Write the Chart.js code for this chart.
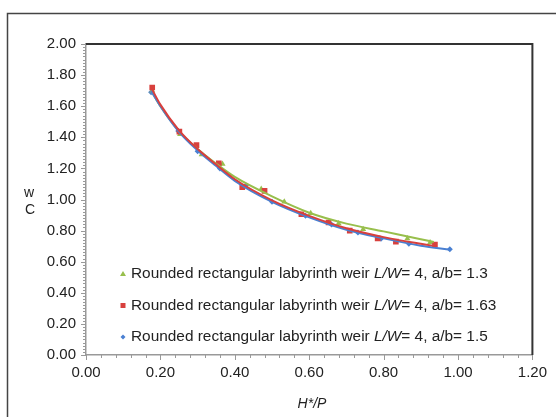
<!DOCTYPE html>
<html>
<head>
<meta charset="utf-8">
<script src="https://cdn.jsdelivr.net/npm/chart.js@4/dist/chart.umd.min.js"></script>
<style>
  html, body { margin: 0; padding: 0; background: #fff; }
  #wrap { width: 556px; height: 417px; }
</style>
</head>
<body>
<div id="wrap"><canvas id="cwChart" width="556" height="417"></canvas></div>
<script>
// --- data ---
const xTicks = [0, 0.2, 0.4, 0.6, 0.8, 1.0, 1.2];
const yTicks = [0, 0.2, 0.4, 0.6, 0.8, 1.0, 1.2, 1.4, 1.6, 1.8, 2.0];

// measured points
const greenX = [0.178, 0.253, 0.311, 0.367, 0.471, 0.533, 0.604, 0.679, 0.745, 0.864, 0.925];
const greenY = [1.70, 1.42, 1.29, 1.228, 1.067, 0.986, 0.911, 0.845, 0.809, 0.75, 0.723];
const redX = [0.178, 0.251, 0.297, 0.357, 0.42, 0.48, 0.579, 0.652, 0.709, 0.784, 0.833, 0.938];
const redY = [1.72, 1.436, 1.35, 1.233, 1.08, 1.055, 0.905, 0.852, 0.80, 0.75, 0.729, 0.71];
const blueX = [0.175, 0.248, 0.30, 0.36, 0.43, 0.50, 0.59, 0.66, 0.731, 0.793, 0.868, 0.978];
const blueY = [1.69, 1.44, 1.31, 1.20, 1.09, 0.985, 0.895, 0.84, 0.787, 0.748, 0.716, 0.68];

// trend curves
const greenFitX = [0.175, 0.2, 0.25, 0.3, 0.35, 0.4, 0.5, 0.6, 0.7, 0.8, 0.9, 0.935];
const greenFitY = [1.70, 1.60, 1.44, 1.325, 1.23, 1.145, 1.02, 0.915, 0.845, 0.795, 0.745, 0.727];
const redFitX = [0.175, 0.2, 0.25, 0.3, 0.35, 0.4, 0.5, 0.6, 0.7, 0.8, 0.9, 0.94];
const redFitY = [1.72, 1.61, 1.445, 1.325, 1.225, 1.13, 0.995, 0.895, 0.815, 0.758, 0.715, 0.70];
const blueFitX = [0.175, 0.2, 0.25, 0.3, 0.35, 0.4, 0.5, 0.6, 0.7, 0.8, 0.9, 0.98];
const blueFitY = [1.70, 1.60, 1.435, 1.315, 1.215, 1.12, 0.985, 0.885, 0.805, 0.75, 0.703, 0.677];

const seriesLabels = ['a/b= 1.3', 'a/b= 1.63', 'a/b= 1.5'];

const GREEN = '#98BF4C';
const RED = '#D8403D';
const BLUE = '#4A80D2';
const FONT = "'Liberation Sans', Arial, sans-serif";

function pts(xs, ys) {
    return xs.map((x, i) => ({ x: x, y: ys[i] }));
}

// frame, minor ticks, legend and axis titles
const decor = {
    id: 'decor',
    beforeDraw(chart) {
        const c = chart.ctx;
        c.save();
        c.fillStyle = '#fff';
        c.fillRect(0, 0, chart.width, chart.height);
        c.strokeStyle = '#444';
        c.lineWidth = 1.5;
        c.strokeRect(7.5, 13.5, 700, 600);
        c.restore();
    },
    afterDraw(chart) {
        const c = chart.ctx;
        const a = chart.chartArea;
        const xs = chart.scales.x, ys = chart.scales.y;
        c.save();
        // top + right border of the plot
        c.strokeStyle = '#333';
        c.lineWidth = 2;
        c.beginPath();
        c.moveTo(a.left, a.top);
        c.lineTo(a.right, a.top);
        c.lineTo(a.right, a.bottom);
        c.stroke();

        // ticks
        c.strokeStyle = '#999';
        c.lineWidth = 1;
        c.beginPath();
        for (let i = 0; i <= 100; i++) {
            const py = Math.round(ys.getPixelForValue(i * 0.02)) + 0.5;
            const len = i % 10 === 0 ? 5 : 3;
            c.moveTo(a.left - len, py);
            c.lineTo(a.left, py);
        }
        for (let i = 0; i <= 30; i++) {
            const px = Math.round(xs.getPixelForValue(i * 0.04)) + 0.5;
            const len = i % 5 === 0 ? 5 : 3;
            c.moveTo(px, a.bottom);
            c.lineTo(px, a.bottom + len);
        }
        c.stroke();

        // y title: C over w, stacked
        c.fillStyle = '#222';
        c.font = '14px ' + FONT;
        c.textAlign = 'center';
        c.textBaseline = 'middle';
        c.fillText('w', 29, 193);
        c.fillText('C', 30, 210);

        // x title
        c.font = 'italic 14px ' + FONT;
        c.fillText('H*/P', 312, 404);

        // legend
        const rows = [
            { y: 274, color: GREEN, shape: 'tri' },
            { y: 305.5, color: RED, shape: 'sq' },
            { y: 337, color: BLUE, shape: 'dia' }
        ];
        rows.forEach((r, i) => {
            c.fillStyle = r.color;
            const mx = 123, my = r.y;
            c.beginPath();
            if (r.shape === 'tri') {
                c.moveTo(mx, my - 3); c.lineTo(mx + 3, my + 2); c.lineTo(mx - 3, my + 2);
            } else if (r.shape === 'sq') {
                c.rect(mx - 2.5, my - 2.5, 5, 5);
            } else {
                c.moveTo(mx, my - 2.5); c.lineTo(mx + 2.5, my); c.lineTo(mx, my + 2.5); c.lineTo(mx - 2.5, my);
            }
            c.fill();

            c.fillStyle = '#222';
            c.textAlign = 'left';
            let tx = 131;
            const parts = [
                ['Rounded rectangular labyrinth weir ', ''],
                ['L/W', 'italic '],
                ['= 4, ' + seriesLabels[i], '']
            ];
            parts.forEach(p => {
                c.font = p[1] + '15.4px ' + FONT;
                c.fillText(p[0], tx, my);
                tx += c.measureText(p[0]).width;
            });
        });
        c.restore();
    }
};

const lineStyle = { showLine: true, pointRadius: 0, borderWidth: 2, fill: false, cubicInterpolationMode: 'monotone' };

new Chart(document.getElementById('cwChart'), {
    type: 'scatter',
    data: {
        datasets: [
            Object.assign({ data: pts(redFitX, redFitY), borderColor: RED, order: 1 }, lineStyle),
            Object.assign({ data: pts(blueFitX, blueFitY), borderColor: BLUE, order: 2 }, lineStyle),
            Object.assign({ data: pts(greenFitX, greenFitY), borderColor: GREEN, order: 3 }, lineStyle),
            { data: pts(redX, redY), pointStyle: 'rect', pointRadius: 4, backgroundColor: RED, borderWidth: 0, order: 4 },
            { data: pts(greenX, greenY), pointStyle: 'triangle', pointRadius: 3.5, backgroundColor: GREEN, borderWidth: 0, order: 5 },
            { data: pts(blueX, blueY), pointStyle: 'rectRot', pointRadius: 3, backgroundColor: BLUE, borderWidth: 0, order: 6 }
        ]
    },
    options: {
        responsive: false,
        animation: false,
        devicePixelRatio: 1,
        layout: { padding: { left: 0, top: 44, right: 16, bottom: 0 } },
        plugins: { legend: { display: false }, tooltip: { enabled: false } },
        scales: {
            x: {
                type: 'linear', min: 0, max: 1.2,
                afterFit: s => { s.height = 62; },
                afterBuildTicks: s => { s.ticks = xTicks.map(v => ({ value: v })); },
                grid: { display: false, drawTicks: false },
                border: { display: true, color: '#999', width: 1.5 },
                ticks: { padding: 9, color: '#222', font: { family: FONT, size: 15 }, callback: v => v.toFixed(2) }
            },
            y: {
                type: 'linear', min: 0, max: 2,
                afterFit: s => { s.width = 86; },
                afterBuildTicks: s => { s.ticks = yTicks.map(v => ({ value: v })); },
                grid: { display: false, drawTicks: false },
                border: { display: true, color: '#999', width: 1.5 },
                ticks: { padding: 10, color: '#222', font: { family: FONT, size: 15 }, callback: v => v.toFixed(2) }
            }
        }
    },
    plugins: [decor]
});
</script>
</body>
</html>
